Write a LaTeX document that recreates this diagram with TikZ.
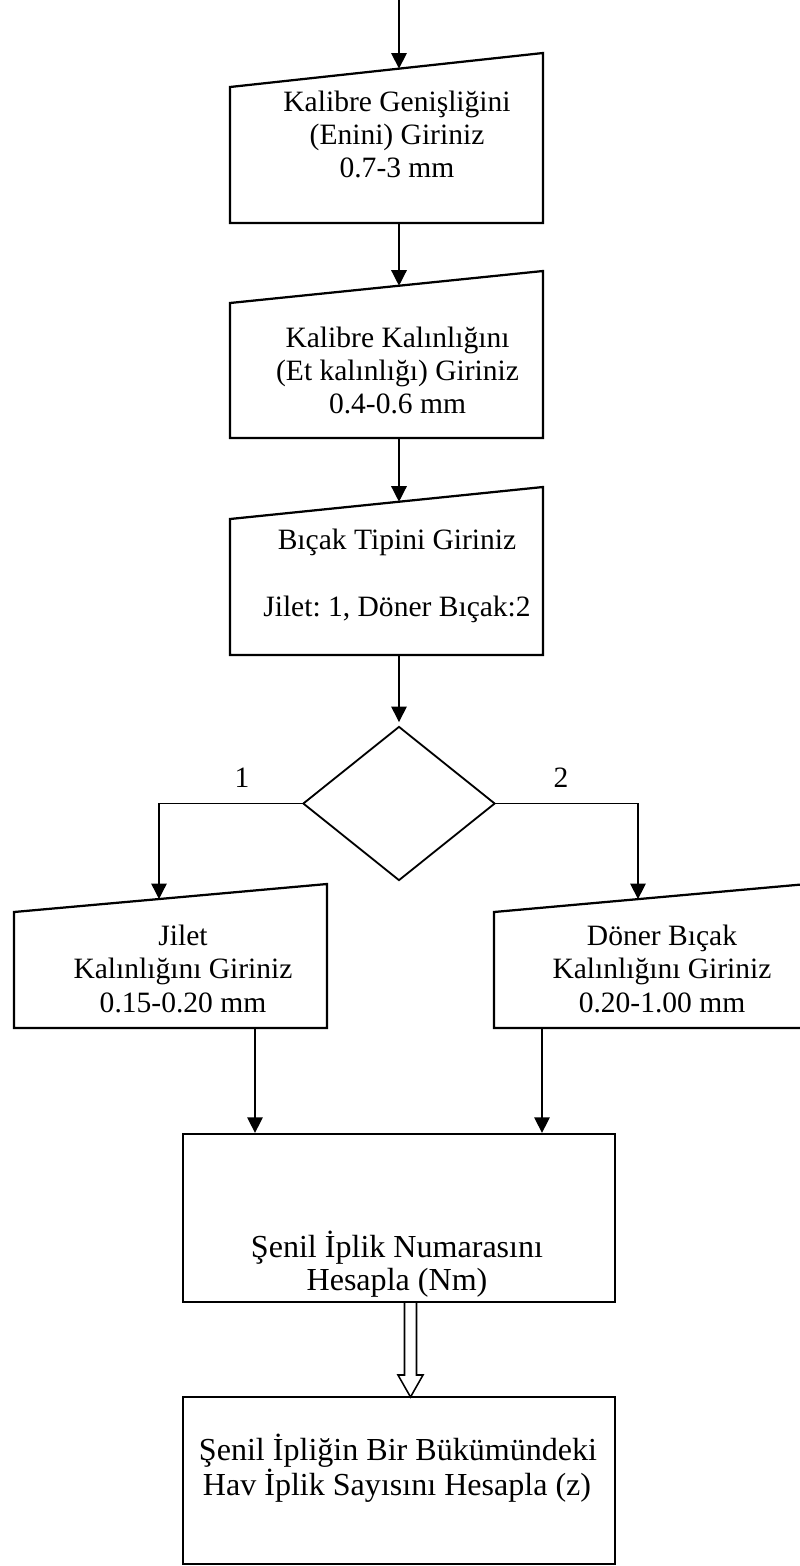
\documentclass[tikz,border=0pt]{standalone}
\usepackage{fontspec}
\setmainfont{Liberation Serif}
\frenchspacing
\usetikzlibrary{arrows.meta,shapes.geometric}

\tikzset{
  kutu/.style={draw, line width=1.6pt},
  ok/.style={line width=0.95pt, -{Triangle[length=11pt,width=11pt]}},
  yazi/.style={anchor=base, inner sep=0pt, font=\fontsize{21}{25}\selectfont},
  iriyazi/.style={anchor=base, inner sep=0pt, font=\fontsize{22.8}{27}\selectfont},
}

\begin{document}
\begin{tikzpicture}[x=0.025cm, y=-0.025cm]
    \useasboundingbox (0,0) rectangle (800,1566);
    \clip (0,0) rectangle (800,1566);

    \coordinate (basla) at (399,0);

    \draw[kutu] (230,223) -- (230,87) -- (543,53) -- (543,223) -- cycle;
    \coordinate (genislik-ust) at (399,68.6);
    \coordinate (genislik-alt) at (399,223);
    \node[yazi] (genislik1) at (397,111) {Kalibre Genişliğini};
    \node[yazi] (genislik2) at (397,144) {(Enini) Giriniz};
    \node[yazi] (genislik3) at (397,177) {0.7-3 mm};

    \draw[kutu] (230,438) -- (230,303) -- (543,271) -- (543,438) -- cycle;
    \coordinate (kalinlik-ust) at (399,285.7);
    \coordinate (kalinlik-alt) at (399,438);
    \node[yazi] (kalinlik1) at (397.5,347) {Kalibre Kalınlığını};
    \node[yazi] (kalinlik2) at (397.5,380) {(Et kalınlığı) Giriniz};
    \node[yazi] (kalinlik3) at (397.5,413) {0.4-0.6 mm};

    \draw[kutu] (230,655) -- (230,519) -- (543,487) -- (543,655) -- cycle;
    \coordinate (bicak-ust) at (399,501.7);
    \coordinate (bicak-alt) at (399,655);
    \node[yazi] (bicak1) at (397,549) {Bıçak Tipini Giriniz};
    \node[yazi] (bicak2) at (397,616) {Jilet: 1, Döner Bıçak:2};

    \node[draw, diamond, line width=1.3pt, minimum width=4.8cm, minimum height=3.85cm, inner sep=0pt] (secim) at (399,803.5) {};
    \node[yazi] (bir) at (242,787) {1};
    \node[yazi] (iki) at (561,787) {2};

    \draw[kutu] (14,1028) -- (14,912) -- (327,884) -- (327,1028) -- cycle;
    \coordinate (jilet-ust) at (159,899);
    \coordinate (jilet-alt) at (255,1028);
    \node[yazi] (jilet1) at (183,945) {Jilet};
    \node[yazi] (jilet2) at (183,978) {Kalınlığını Giriniz};
    \node[yazi] (jilet3) at (183,1012) {0.15-0.20 mm};

    \draw[kutu] (494,1028) -- (494,912) -- (807,884) -- (807,1028) -- cycle;
    \coordinate (doner-ust) at (638,899.1);
    \coordinate (doner-alt) at (542,1028);
    \node[yazi] (doner1) at (662,945) {Döner Bıçak};
    \node[yazi] (doner2) at (662,978) {Kalınlığını Giriniz};
    \node[yazi] (doner3) at (662,1012) {0.20-1.00 mm};

    \node[kutu, minimum width=10.8cm, minimum height=4.2cm, inner sep=0pt] (numara) at (399,1218) {};
    \node[iriyazi] (numara1) at (397,1257) {Şenil İplik Numarasını};
    \node[iriyazi] (numara2) at (397,1290) {Hesapla (Nm)};

    \node[kutu, minimum width=10.8cm, minimum height=4.175cm, inner sep=0pt] (hav) at (399,1480.5) {};
    \node[iriyazi] (hav1) at (398,1460) {Şenil İpliğin Bir Bükümündeki};
    \node[iriyazi] (hav2) at (397,1495) {Hav İplik Sayısını Hesapla (z)};

    \draw[ok] (basla) -- (genislik-ust);
    \draw[ok] (genislik-alt) -- (kalinlik-ust);
    \draw[ok] (kalinlik-alt) -- (bicak-ust);
    \draw[ok, shorten >=2.5pt] (bicak-alt) -- (secim.north);
    \draw[ok] (secim.west) -| (jilet-ust);
    \draw[ok] (secim.east) -| (doner-ust);
    \draw[ok] (jilet-alt) -- (jilet-alt |- numara.north);
    \draw[ok] (doner-alt) -- (doner-alt |- numara.north);

    \coordinate (cift-ust) at (410.5,1302);
    \coordinate (cift-uc) at (410.5,1397);
    \draw[line width=1.1pt] (cift-ust) ++(-6,0) -- ++(0,73) -- ++(-6.5,0) -- (cift-uc) -- ++(12.5,-22) -- ++(-6.5,0) -- ++(0,-73);
  \end{tikzpicture}
\end{document}
